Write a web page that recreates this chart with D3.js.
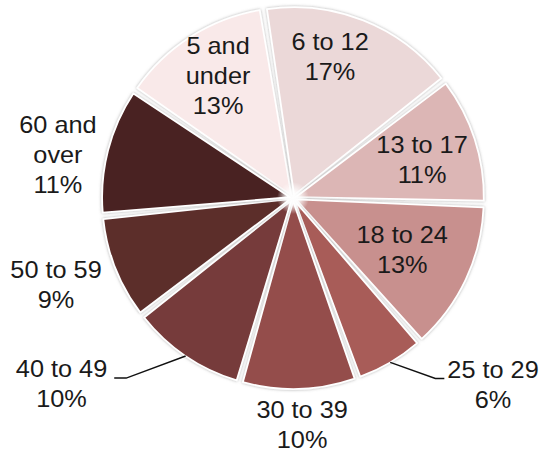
<!DOCTYPE html>
<meta charset="utf-8">
<style>
    body { margin: 0; background: #fff; }
    text {
        font-family: "Liberation Sans", Arial, sans-serif;
        font-size: 23px;
        fill: #1a1a1a;
    }
</style>

<svg width="544" height="452"></svg>

<script src="https://d3js.org/d3.v7.min.js"></script>

<script>
    // data
    var ageGroups = ["5 and under", "6 to 12", "13 to 17", "18 to 24", "25 to 29",
                     "30 to 39", "40 to 49", "50 to 59", "60 and over"];
    var shares = [13, 17, 11, 13, 6, 10, 10, 9, 11];

    // styling / layout
    var sliceColors = ["#f9e9e9", "#ebd8d8", "#dcb6b5", "#c8908e", "#a85b58",
                       "#944e4c", "#763b3a", "#5c2e2c", "#4a2120"];
    // label placement: [distance from centre, angle in degrees clockwise from 12 o'clock]
    var labelPolar = [[143, -31.6], [146, 14.7], [134.5, 73.6], [121, 115.5], [273.5, 133],
                      [226.7, 177.7], [297, 231.2], [252.5, 249.8], [239, 280.4]];
    var hasLeader = [false, false, false, false, true, false, true, false, false];

    var svg = d3.select("svg"),
        cx = 293, cy = 198,
        radius = 188,
        explode = 3,
        deg = Math.PI / 180,
        lineH = 30,
        textScale = 1.1;

    var defs = svg.append("defs");
    var shadow = defs.append("filter").attr("id", "shadow")
            .attr("x", "-20%").attr("y", "-20%").attr("width", "140%").attr("height", "140%");
    shadow.append("feDropShadow")
            .attr("dx", 0).attr("dy", 0)
            .attr("stdDeviation", 1.6)
            .attr("flood-color", "#7a7a7a")
            .attr("flood-opacity", 0.6);

    var glow = defs.append("radialGradient").attr("id", "glow");
    glow.append("stop").attr("offset", "0%").attr("stop-color", "#fff").attr("stop-opacity", 1);
    glow.append("stop").attr("offset", "45%").attr("stop-color", "#fff").attr("stop-opacity", 0.8);
    glow.append("stop").attr("offset", "100%").attr("stop-color", "#fff").attr("stop-opacity", 0);

    var start = -55.8 * deg;
    var pie = d3.pie()
            .sort(null)
            .value(function (d) { return d; })
            .startAngle(start)
            .endAngle(start + 2 * Math.PI);

    var arc = d3.arc()
            .innerRadius(0)
            .outerRadius(radius)
            .padAngle(0.024)
            .padRadius(radius);

    var arcs = pie(shares);

    function polar(r, a) {
        return [cx + r * Math.sin(a), cy - r * Math.cos(a)];
    }

    var g = svg.append("g").attr("transform", "translate(" + cx + "," + cy + ")");

    g.selectAll("path")
            .data(arcs)
            .enter().append("path")
            .attr("d", arc)
            .attr("transform", function (d) {
                var mid = (d.startAngle + d.endAngle) / 2;
                return "translate(" + explode * Math.sin(mid) + "," + (-explode * Math.cos(mid)) + ")";
            })
            .attr("fill", function (d, i) { return sliceColors[i]; })
            .attr("stroke", "#fff")
            .attr("stroke-width", 1.8)
            .attr("stroke-linejoin", "round")
            .attr("filter", "url(#shadow)");

    g.append("circle").attr("r", 16).attr("fill", "url(#glow)");

    /* labels */
    var labels = svg.append("g").selectAll("g")
            .data(arcs)
            .enter().append("g")
            .attr("transform", function (d, i) {
                var p = polar(labelPolar[i][0], labelPolar[i][1] * deg);
                return "translate(" + p[0] + "," + p[1] + ") scale(" + textScale + ",1)";
            });

    labels.each(function (d, i) {
        var name = ageGroups[i];
        var lines = name.indexOf(" and ") > 0 ?
                [name.split(" and ")[0] + " and", name.split(" and ")[1]] : [name];
        lines.push(shares[i] + "%");
        var t = d3.select(this).append("text").attr("text-anchor", "middle");
        lines.forEach(function (s, k) {
            t.append("tspan")
                    .attr("x", 0)
                    .attr("y", (k - (lines.length - 1) / 2) * lineH + 8)
                    .text(s);
        });
    });

    /* leader lines for labels set outside the pie */
    labels.each(function (d, i) {
        if (!hasLeader[i]) return;
        var mid = (d.startAngle + d.endAngle) / 2;
        var lp = polar(labelPolar[i][0], labelPolar[i][1] * deg);
        var firstLine = d3.select(this).select("tspan").node();
        var half = firstLine.getComputedTextLength() * textScale / 2;
        var s = polar(radius + explode, mid), yy = lp[1] - 6, elbow, end;
        if (Math.sin(mid) > 0) {
            elbow = [lp[0] - half - 12, yy];
            end = [lp[0] - half - 3, yy];
        } else {
            elbow = [lp[0] + half + 19, yy];
            end = [lp[0] + half + 7, yy];
        }
        svg.append("polyline")
                .attr("points", [s, elbow, end].map(function (p) { return p.join(","); }).join(" "))
                .attr("fill", "none")
                .attr("stroke", "#111")
                .attr("stroke-width", 1.5);
    });
</script>
